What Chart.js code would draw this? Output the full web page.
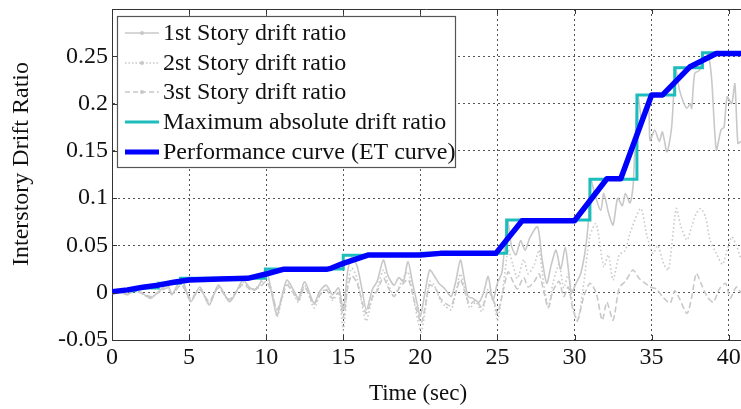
<!DOCTYPE html>
<html>
<head>
<meta charset="utf-8">
<script src="https://cdn.jsdelivr.net/npm/chart.js@4/dist/chart.umd.min.js"></script>
<style>
  html, body { margin: 0; padding: 0; background: #fff; }
  canvas { display: block; }
</style>
</head>
<body>
<canvas id="c" width="741" height="409"></canvas>
<script>
// ---- Time histories (sec, interstory drift ratio) ----
const story1Time = [0.0,0.5,1.0,1.5,2.0,2.5,3.0,3.6,3.9,4.5,5.1,5.7,6.3,6.9,7.6,7.9,8.5,8.9,9.3,9.6,10.0,10.3,10.7,11.0,11.35,11.8,12.1,12.5,13.1,13.5,13.9,14.3,14.7,15.0,15.3,15.55,15.9,16.2,16.5,16.9,17.2,17.6,17.9,18.3,18.6,18.9,19.2,19.5,19.8,20.0,20.3,20.6,20.9,21.2,21.6,22.0,22.3,22.6,22.85,23.1,23.4,23.8,24.1,24.4,24.7,25.0,25.3,25.65,25.9,26.2,26.5,26.8,27.1,27.6,27.9,28.2,28.5,28.8,29.1,29.4,29.6,29.8,30.1,30.4,30.7,30.9,31.05,31.3,31.7,31.9,32.2,32.5,32.8,33.1,33.3,33.6,33.8,34.1,34.4,34.8,34.9,35.2,35.5,35.7,36.0,36.3,36.55,36.8,37.1,37.3,37.5,37.6,37.8,38.1,38.4,38.7,38.9,39.2,39.5,39.7,39.9,40.2,40.4,40.6,40.8];
const story1Drift = [-0.001,0.001,-0.002,0.003,-0.001,-0.006,0.001,0.008,-0.002,0.0152,-0.0095,0.006,-0.013,0.008,-0.0095,-0.004,0.0134,0.006,0.003,0.010,0.025,0.004,-0.0236,-0.005,0.0134,0.002,-0.006,0.0116,-0.011,0.002,0.008,-0.002,0.005,-0.018,0.024,0.038,0.028,0.005,-0.018,0.004,0.012,0.0346,0.018,0.008,0.016,0.012,0.033,0.010,-0.012,-0.025,0.000,0.024,0.018,0.010,0.004,-0.004,0.012,0.0346,0.015,-0.004,-0.006,-0.010,0.000,0.017,-0.008,0.010,0.022,0.0768,0.050,0.040,0.055,0.045,0.058,0.0698,0.035,0.010,0.030,0.045,0.025,0.048,0.025,0.000,0.010,0.020,0.045,0.075,0.120,0.105,0.087,0.105,0.085,0.0716,0.100,0.092,0.105,0.095,0.113,0.209,0.180,0.195,0.161,0.172,0.160,0.170,0.149,0.175,0.238,0.215,0.200,0.195,0.200,0.195,0.232,0.235,0.2537,0.250,0.225,0.151,0.172,0.175,0.207,0.200,0.221,0.158,0.160];

const story2Time = [0.0,0.5,1.0,1.5,2.0,2.5,3.0,3.6,3.9,4.5,5.1,5.7,6.3,6.9,7.6,8.5,9.0,9.6,10.0,10.4,10.7,11.0,11.35,11.8,12.1,12.5,13.1,13.5,13.9,14.3,14.7,15.0,15.3,15.55,15.9,16.3,16.5,16.9,17.2,17.6,17.9,18.3,18.6,19.2,19.6,20.05,20.3,20.6,20.9,21.3,21.6,22.0,22.3,22.6,22.9,23.2,23.6,24.0,24.4,24.8,25.0,25.4,25.7,26.0,26.3,26.7,27.0,27.4,27.7,28.0,28.3,28.6,29.0,29.3,29.6,29.9,30.2,30.6,31.0,31.4,31.9,32.2,32.5,32.9,33.3,33.6,34.3,34.7,35.1,35.4,35.8,36.1,36.6,36.9,37.3,37.6,37.9,38.2,38.5,38.8,39.2,39.6,39.9,40.2,40.5,40.8];
const story2Drift = [0.000,0.001,-0.002,0.002,-0.002,-0.005,0.000,0.006,-0.002,0.010,-0.008,0.004,-0.011,0.006,-0.008,0.011,0.004,0.008,0.018,0.000,-0.026,-0.008,0.010,-0.002,-0.010,0.008,-0.016,-0.002,0.004,-0.008,0.000,-0.0395,0.010,0.026,0.015,-0.020,-0.030,-0.005,0.004,0.024,0.010,-0.004,0.006,0.022,-0.010,-0.0416,-0.020,0.012,0.008,-0.008,-0.014,-0.018,0.000,0.020,0.002,-0.016,-0.010,-0.020,0.004,-0.012,-0.030,0.010,0.045,0.030,0.015,0.035,0.020,0.030,0.045,0.010,-0.015,0.010,0.030,0.005,0.020,-0.015,-0.030,0.010,0.060,0.073,0.0275,0.040,0.0134,0.040,0.045,0.063,0.089,0.060,0.0416,0.050,0.030,0.024,0.089,0.070,0.0557,0.070,0.084,0.089,0.080,0.055,0.0416,0.030,0.045,0.059,0.050,0.035];

const story3Time = [0.0,0.5,1.0,1.5,2.0,2.5,3.0,3.6,3.9,4.5,5.1,5.7,6.3,6.9,7.6,8.5,9.0,9.6,10.0,10.4,10.7,11.0,11.35,11.8,12.1,12.5,13.1,13.5,13.9,14.3,14.7,15.0,15.3,15.55,15.9,16.3,16.5,16.9,17.2,17.6,17.9,18.3,18.6,19.2,19.6,20.05,20.3,20.6,21.0,21.3,21.7,22.0,22.3,22.6,22.9,23.2,23.6,24.0,24.4,24.8,25.0,25.4,25.7,26.0,26.3,26.7,27.0,27.4,27.7,28.0,28.3,28.6,29.0,29.3,29.6,29.9,30.2,30.6,31.0,31.4,31.8,32.1,32.5,32.9,33.3,33.8,34.2,34.6,34.9,35.3,35.7,36.2,36.5,36.8,37.3,37.6,37.9,38.2,38.6,39.0,39.4,39.8,40.1,40.5,40.8];
const story3Drift = [0.000,0.001,-0.001,0.002,-0.001,-0.004,0.000,0.005,-0.001,0.008,-0.006,0.003,-0.009,0.005,-0.007,0.009,0.003,0.006,0.012,-0.002,-0.018,-0.006,0.008,-0.001,-0.008,0.006,-0.012,-0.002,0.003,-0.006,0.000,-0.026,0.006,0.018,0.010,-0.014,-0.022,-0.004,0.002,0.016,0.006,-0.004,0.004,0.014,-0.008,-0.032,-0.016,0.008,0.004,-0.006,-0.012,-0.014,0.000,0.014,0.000,-0.012,-0.008,-0.016,0.002,-0.010,-0.022,0.004,0.022,0.012,0.004,0.016,0.006,0.012,0.020,0.002,-0.016,0.002,0.012,-0.004,0.006,-0.018,-0.029,-0.004,0.010,0.000,-0.029,-0.010,-0.029,0.005,0.012,0.024,0.015,0.010,0.006,0.004,-0.004,-0.011,0.002,-0.006,-0.022,-0.005,0.0205,0.010,-0.004,-0.010,0.004,0.010,-0.006,0.006,0.000];

// Running maximum of the absolute drift (value holds until the next time)
const maxDriftTime = [0.0,1.5,3.0,4.45,9.95,15.0,20.05,25.6,31.0,34.05,36.5,38.3,40.8];
const maxDriftValue = [0.002,0.005,0.010,0.0152,0.025,0.0395,0.0416,0.0768,0.1199,0.209,0.238,0.2537,0.2537];

// Performance (ET) curve
const etTime = [0.0,1.0,2.0,3.0,4.0,5.0,7.0,8.8,10.0,11.1,13.9,14.2,15.0,16.6,20.0,21.3,24.9,26.6,30.0,32.1,33.0,35.0,35.7,37.5,39.2,40.8];
const etValue = [0.001,0.003,0.0057,0.008,0.011,0.0134,0.0145,0.0152,0.0198,0.0247,0.0247,0.0258,0.031,0.0398,0.0398,0.0416,0.0416,0.0761,0.0761,0.1205,0.1205,0.209,0.209,0.239,0.253,0.253];

const seriesNames = ['1st Story drift ratio', '2st Story drift ratio', '3st Story drift ratio',
                     'Maximum absolute drift ratio', 'Performance curve (ET curve)'];
const xTickValues = [0, 5, 10, 15, 20, 25, 30, 35, 40];
const yTickValues = [-0.05, 0, 0.05, 0.1, 0.15, 0.2, 0.25];
const yTickLabels = ['-0.05', '0', '0.05', '0.1', '0.15', '0.2', '0.25'];
const xTitle = 'Time (sec)';
const yTitle = 'Interstory Drift Ratio';

const SERIF = "'Liberation Serif', 'Times New Roman', serif";
const GRAY = '#c8c8c8';

const pairs = (t, v) => t.map((x, i) => ({ x: x, y: v[i] }));

const datasets = [
  { label: seriesNames[0], data: pairs(story1Time, story1Drift), borderColor: GRAY, borderWidth: 1.6,
    tension: 0.25, order: 4, legendDash: [] },
  { label: seriesNames[1], data: pairs(story2Time, story2Drift), borderColor: GRAY, borderWidth: 1.6,
    borderDash: [1.5, 2.5], tension: 0.25, order: 3, legendDash: [1.5, 2] },
  { label: seriesNames[2], data: pairs(story3Time, story3Drift), borderColor: GRAY, borderWidth: 1.6,
    borderDash: [6, 3], tension: 0.25, order: 2, legendDash: [5, 3] },
  { label: seriesNames[3], data: pairs(maxDriftTime, maxDriftValue), borderColor: '#1ebdbd', borderWidth: 3,
    stepped: 'before', order: 1, legendDash: [] },
  { label: seriesNames[4], data: pairs(etTime, etValue), borderColor: '#0000ff', borderWidth: 5.5,
    borderJoinStyle: 'round', order: 0, legendDash: [] }
];

// Box frame, inward ticks, legend and axis titles
const decorations = {
  id: 'decorations',
  afterDatasetsDraw(chart) {
    const { ctx, chartArea: a, scales: { x, y } } = chart;
    ctx.save();
    ctx.strokeStyle = '#333';
    ctx.lineWidth = 1;
    ctx.setLineDash([]);
    ctx.beginPath();
    ctx.moveTo(a.left, a.top + 0.5);
    ctx.lineTo(a.right, a.top + 0.5);
    xTickValues.forEach(v => {
      const px = Math.round(x.getPixelForValue(v)) + 0.5;
      ctx.moveTo(px, a.bottom); ctx.lineTo(px, a.bottom - 5);
      ctx.moveTo(px, a.top); ctx.lineTo(px, a.top + 5);
    });
    yTickValues.forEach(v => {
      const py = Math.round(y.getPixelForValue(v)) + 0.5;
      ctx.moveTo(a.left, py); ctx.lineTo(a.left + 5, py);
    });
    ctx.stroke();

    // legend box
    const bx = 117, by = 16, bw = 338, bh = 151;
    ctx.fillStyle = '#fff';
    ctx.fillRect(bx, by, bw, bh);
    ctx.strokeStyle = '#555';
    ctx.lineWidth = 1.2;
    ctx.strokeRect(bx + 0.5, by + 0.5, bw, bh);
    const rowY = [33, 63, 92, 122, 152];
    ctx.font = '24px ' + SERIF;
    ctx.textBaseline = 'middle';
    ctx.textAlign = 'left';
    chart.data.datasets.forEach((ds, i) => {
      const ry = rowY[i];
      ctx.strokeStyle = ds.borderColor;
      ctx.lineWidth = i < 3 ? 1.6 : (i === 3 ? 3 : 5);
      ctx.setLineDash(ds.legendDash);
      ctx.beginPath();
      ctx.moveTo(125, ry); ctx.lineTo(159, ry);
      ctx.stroke();
      ctx.setLineDash([]);
      if (i < 3) {
        ctx.fillStyle = ds.borderColor;
        ctx.beginPath();
        ctx.arc(142, ry, 2, 0, Math.PI * 2);
        ctx.fill();
      }
      ctx.fillStyle = '#111';
      ctx.fillText(ds.label, 163, ry + 1);
    });

    // axis titles
    ctx.fillStyle = '#111';
    ctx.textAlign = 'center';
    ctx.font = '23px ' + SERIF;
    ctx.fillText(xTitle, 418, 394);
    ctx.save();
    ctx.translate(22, 164);
    ctx.rotate(-Math.PI / 2);
    ctx.font = '24px ' + SERIF;
    ctx.fillText(yTitle, 0, 0);
    ctx.restore();
    ctx.restore();
  }
};

const noEdgePadding = s => { s.paddingTop = 0; s.paddingBottom = 0; s.paddingLeft = 0; s.paddingRight = 0; };

new Chart(document.getElementById('c'), {
  type: 'line',
  data: { datasets: datasets },
  options: {
    responsive: false,
    animation: false,
    devicePixelRatio: 1,
    layout: { padding: { top: 9, right: 0, left: 0, bottom: 0 } },
    elements: { point: { radius: 0 }, line: { fill: false } },
    plugins: { legend: { display: false }, tooltip: { enabled: false } },
    scales: {
      x: {
        type: 'linear', min: 0, max: 40.8,
        afterBuildTicks: s => { s.ticks = xTickValues.map(v => ({ value: v })); },
        afterFit: s => { s.height = 69; noEdgePadding(s); },
        grid: { color: '#555', lineWidth: 1, drawTicks: false },
        border: { display: true, color: '#333', width: 1, dash: [2, 3] },
        ticks: { font: { family: SERIF, size: 24 }, color: '#111', padding: 3, maxRotation: 0,
                 callback: v => String(v) }
      },
      y: {
        type: 'linear', min: -0.05, max: 0.3,
        afterBuildTicks: s => { s.ticks = yTickValues.map(v => ({ value: v })); },
        afterFit: s => { s.width = 112; noEdgePadding(s); },
        grid: { color: '#555', lineWidth: 1, drawTicks: false },
        border: { display: true, color: '#333', width: 1, dash: [2, 3] },
        ticks: { font: { family: SERIF, size: 24 }, color: '#111', padding: 4,
                 callback: (v, i) => yTickLabels[yTickValues.indexOf(v)] ?? '' }
      }
    }
  },
  plugins: [decorations]
});
</script>
</body>
</html>
